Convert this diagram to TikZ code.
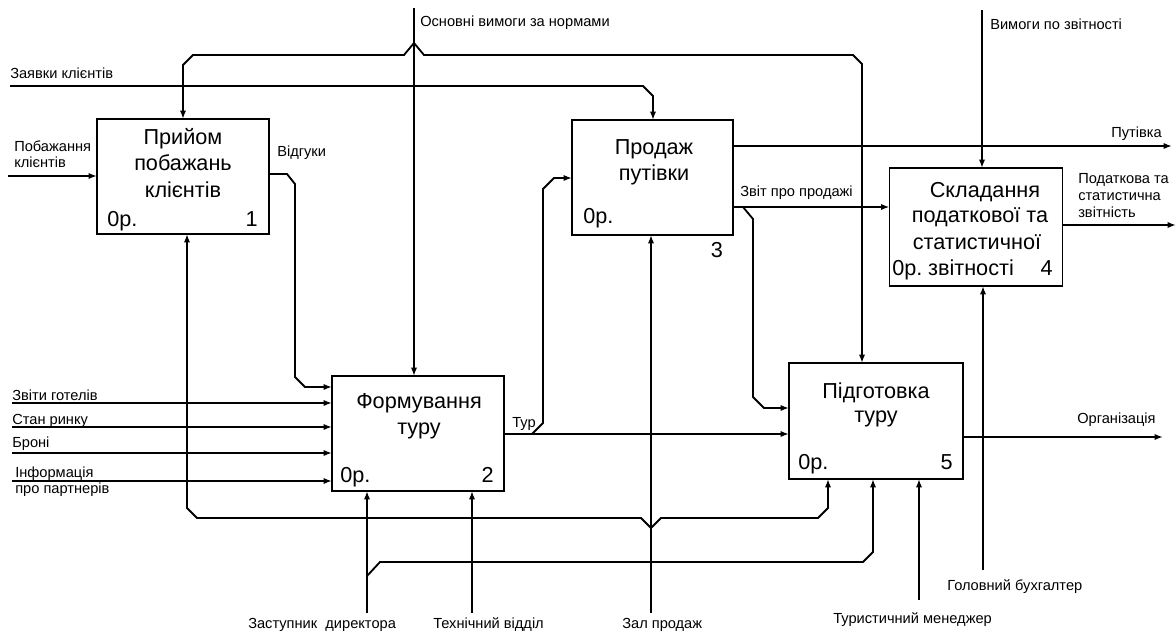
\documentclass[tikz,border=0pt]{standalone}
\usepackage{fontspec}
\setmainfont{Liberation Sans}
\usetikzlibrary{arrows.meta}
\begin{document}
\begin{tikzpicture}[x=0.025cm,y=-0.025cm,
  blk/.style={draw,line width=1pt,inner sep=0pt,outer sep=0pt},
  flow/.style={line width=1.3pt},
  arr/.style={flow,-{Latex[length=6pt,width=4.5pt]}},
  ttl/.style={font=\fontsize{15.4}{18}\selectfont,inner sep=0pt,anchor=base},
  ttlw/.style={ttl,anchor=base west},
  ttle/.style={ttl,anchor=base east},
  lbl/.style={font=\fontsize{10.4}{12}\selectfont,inner sep=0pt,anchor=base west},
  lble/.style={lbl,anchor=base east},
]
\useasboundingbox (0,0) rectangle (1176,631);

% ---------- boxes ----------
\node[blk,minimum width=4.3cm,minimum height=2.875cm] (b1) at (183,176.5) {};
\node[blk,minimum width=4.3cm,minimum height=2.875cm] (b2) at (418,433.5) {};
\node[blk,minimum width=4.025cm,minimum height=2.875cm] (b3) at (652.5,177.5) {};
\node[blk,minimum width=4.325cm,minimum height=2.95cm] (b4) at (976,227) {};
\node[blk,minimum width=4.35cm,minimum height=2.9cm] (b5) at (876,421) {};

% ---------- box texts ----------
\node[ttl] (t1a) at (183,144) {Прийом};
\node[ttl] (t1b) at (183,170.5) {побажань};
\node[ttl] (t1c) at (183,197) {клієнтів};
\node[ttlw] (n1a) at (107,226) {0р.};
\node[ttle] (n1b) at (258,226) {1};

\node[ttl] (t2a) at (419,408) {Формування};
\node[ttl] (t2b) at (419,434) {туру};
\node[ttlw] (n2a) at (340,482) {0р.};
\node[ttle] (n2b) at (494,482) {2};

\node[ttl] (t3a) at (654,154) {Продаж};
\node[ttl] (t3b) at (654,180) {путівки};
\node[ttlw] (n3a) at (583,223) {0р.};
\node[ttl] (n3b) at (717,257) {3};

\node[ttl] (t4a) at (985,197) {Складання};
\node[ttl] (t4b) at (980,222.5) {податкової та};
\node[ttl] (t4c) at (977,249) {статистичної};
\node[ttl] (t4d) at (971,275) {звітності};
\node[ttlw] (n4a) at (892,275) {0р.};
\node[ttle] (n4b) at (1053,275) {4};

\node[ttl] (t5a) at (876,398) {Підготовка};
\node[ttl] (t5b) at (876,422) {туру};
\node[ttlw] (n5a) at (798,469) {0р.};
\node[ttle] (n5b) at (953,469) {5};

% ---------- free ends ----------
\coordinate (sOsn) at (414,8);
\coordinate (sZay) at (10,86);
\coordinate (sPob) at (8,176);
\coordinate (sZvg) at (12,403);
\coordinate (sStan) at (12,427);
\coordinate (sBron) at (12,453);
\coordinate (sInf) at (12,481);
\coordinate (sZast) at (367,613);
\coordinate (sTech) at (472,613);
\coordinate (sZal) at (651,613);
\coordinate (sTur) at (919,600);
\coordinate (sBuh) at (983,570);
\coordinate (sVym) at (982,10);
\coordinate (ePut) at (1172,146);
\coordinate (ePod) at (1176,225);
\coordinate (eOrg) at (1163,437);

% ---------- controls from top ----------
\draw[arr] (sOsn) -- (b2.north -| 414,0);
\draw[arr] (414,43) -- (404,55) -- (193,55) -- (183,65) -- (b1.north -| 183,0);
\draw[arr] (414,43) -- (424,55) -- (853,55) -- (862,64) -- (b5.north -| 862,0);
\draw[arr] (sZay) -- (643,86) -- (653,96) -- (b3.north -| 653,0);
\draw[arr] (sVym) -- (b4.north -| 982,0);

% ---------- inputs ----------
\draw[arr] (sPob) -- (b1.west |- 0,176);
\draw[arr] (b1.east |- 0,174) -- (287,174) -- (295,184) -- (295,377) -- (305,387) -- (b2.west |- 0,387);
\draw[arr] (sZvg) -- (b2.west |- sZvg);
\draw[arr] (sStan) -- (b2.west |- sStan);
\draw[arr] (sBron) -- (b2.west |- sBron);
\draw[arr] (sInf) -- (b2.west |- sInf);

% ---------- outputs ----------
\draw[arr] (b2.east |- 0,434) -- (b5.west |- 0,434);
\draw[arr] (532,434) -- (543,423) -- (543,189) -- (554,178) -- (b3.west |- 0,178);
\draw[arr] (b3.east |- 0,146) -- (ePut);
\draw[arr] (b3.east |- 0,207) -- (b4.west |- 0,207);
\draw[arr] (743,207) -- (753,219) -- (753,397) -- (764,408) -- (b5.west |- 0,408);
\draw[arr] (b4.east |- 0,225) -- (ePod);
\draw[arr] (b5.east |- 0,437) -- (eOrg);

% ---------- mechanisms ----------
\draw[arr] (sZal) -- (b3.south -| 651,0);
\draw[arr] (651,528) -- (641,518) -- (197,518) -- (187,508) -- (b1.south -| 187,0);
\draw[arr] (651,528) -- (661,518) -- (818,518) -- (828,508) -- (b5.south -| 828,0);
\draw[arr] (sZast) -- (b2.south -| 367,0);
\draw[arr] (367,576) -- (380,562) -- (863,562) -- (873,552) -- (b5.south -| 873,0);
\draw[arr] (sTech) -- (b2.south -| 472,0);
\draw[arr] (sTur) -- (b5.south -| 919,0);
\draw[arr] (sBuh) -- (b4.south -| 983,0);

% ---------- labels ----------
\node[lbl] (lOsn) at (420,26) {Основні вимоги за нормами};
\node[lbl] (lZay) at (10,78) {Заявки клієнтів};
\node[lbl] (lPob1) at (14,151) {Побажання};
\node[lbl] (lPob2) at (14,167) {клієнтів};
\node[lbl] (lVid) at (277,156) {Відгуки};
\node[lbl] (lZvg) at (12,400) {Звіти готелів};
\node[lbl] (lStan) at (12,424) {Стан ринку};
\node[lbl] (lBron) at (12,447) {Броні};
\node[lbl] (lInf1) at (15,477) {Інформація};
\node[lbl] (lInf2) at (15,493) {про партнерів};
\node[lbl] (lTur) at (512,427) {Тур};
\node[lbl] (lZvit) at (740,196) {Звіт про продажі};
\node[lble] (lPut) at (1162,137) {Путівка};
\node[lbl] (lVym) at (990,29) {Вимоги по звітності};
\node[lbl] (lPod1) at (1078,183) {Податкова та};
\node[lbl] (lPod2) at (1078,200) {статистична};
\node[lbl] (lPod3) at (1078,217) {звітність};
\node[lbl] (lOrg) at (1077,423) {Організація};
\node[lbl] (lBuh) at (947,590) {Головний бухгалтер};
\node[lbl] (lTurm) at (833,623) {Туристичний менеджер};
\node[lbl] (lZast) at (248,628) {Заступник\ \ директора};
\node[lbl] (lTech) at (433,628) {Технічний відділ};
\node[lbl] (lZal) at (622,628) {Зал продаж};
\end{tikzpicture}
\end{document}
